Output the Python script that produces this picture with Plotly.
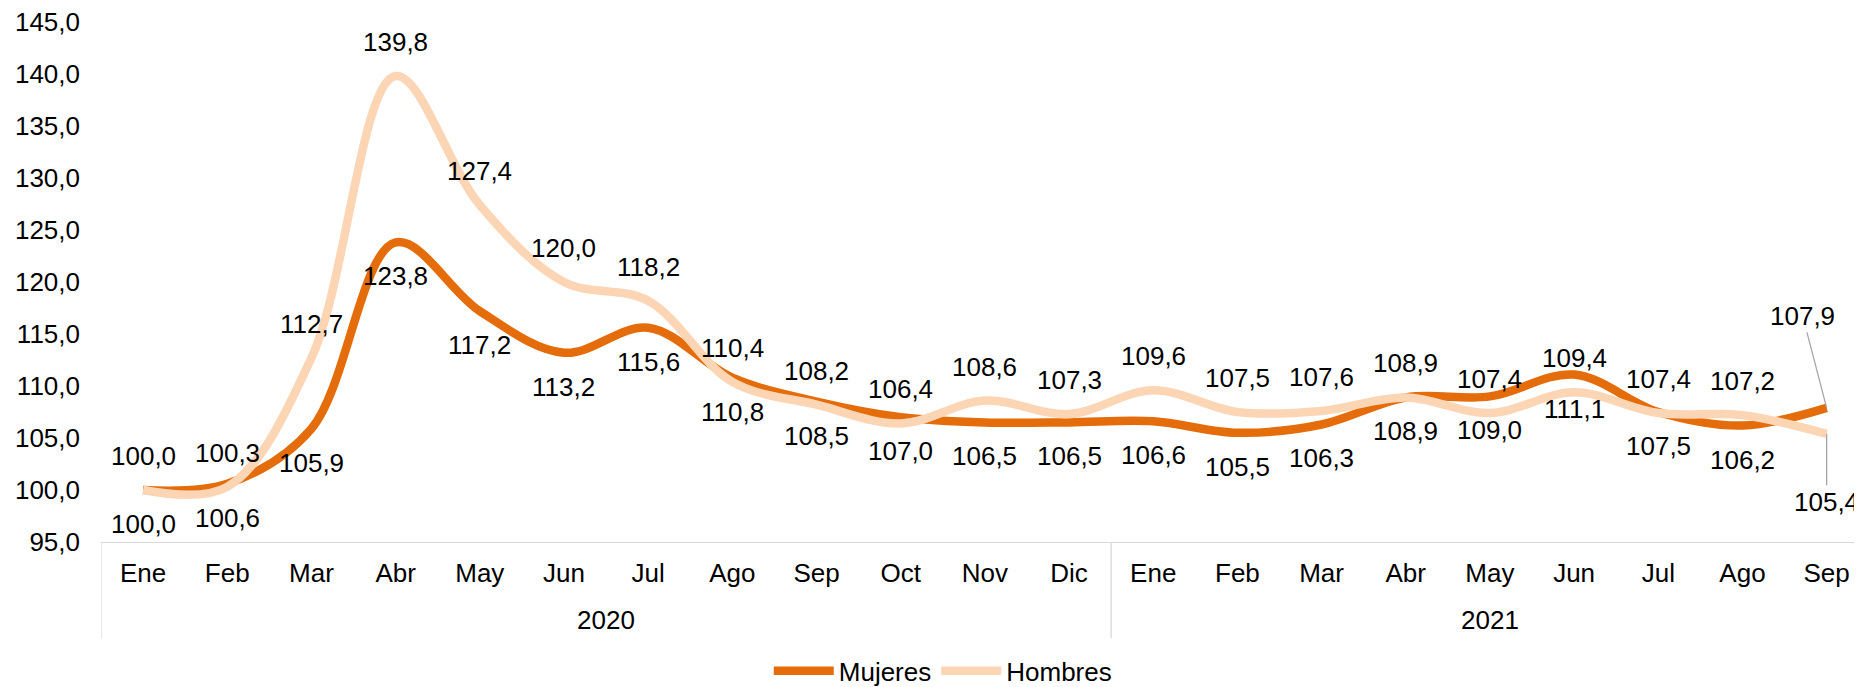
import plotly.graph_objects as go

# ---------------- data ----------------
months = ["Ene", "Feb", "Mar", "Abr", "May", "Jun", "Jul", "Ago", "Sep", "Oct", "Nov", "Dic",
          "Ene", "Feb", "Mar", "Abr", "May", "Jun", "Jul", "Ago", "Sep"]
years = ["2020"] * 12 + ["2021"] * 9
mujeres = [100.0, 100.6, 105.9, 123.8, 117.2, 113.2, 115.6, 110.8, 108.5, 107.0, 106.5, 106.5,
           106.6, 105.5, 106.3, 108.9, 109.0, 111.1, 107.5, 106.2, 107.9]
hombres = [100.0, 100.3, 112.7, 139.8, 127.4, 120.0, 118.2, 110.4, 108.2, 106.4, 108.6, 107.3,
           109.6, 107.5, 107.6, 108.9, 107.4, 109.4, 107.4, 107.2, 105.4]
y_ticks = [95, 100, 105, 110, 115, 120, 125, 130, 135, 140, 145]

# ---------------- style ----------------
C_MUJ = "#E46C0A"
C_HOM = "#FCD5B5"
FONT = "Liberation Sans, Arial, sans-serif"
FS = 26
AXIS_GRAY = "#D9D9D9"

x = list(range(len(months)))


def fmt(v):
    return f"{v:.1f}".replace(".", ",")


fig = go.Figure()
fig.add_trace(go.Scatter(x=x, y=mujeres, name="Mujeres", mode="lines",
                         line=dict(color=C_MUJ, width=8.5, shape="spline", smoothing=1),
                         hoverinfo="skip"))
fig.add_trace(go.Scatter(x=x, y=hombres, name="Hombres", mode="lines",
                         line=dict(color=C_HOM, width=8.5, shape="spline", smoothing=1),
                         hoverinfo="skip"))

annotations = []
last = len(x) - 1
for i in x:
    if i == last:
        continue
    annotations.append(dict(x=i, y=hombres[i], text=fmt(hombres[i]), showarrow=False,
                            xanchor="center", yanchor="middle", yshift=34,
                            font=dict(family=FONT, size=FS, color="#000000")))
    annotations.append(dict(x=i, y=mujeres[i], text=fmt(mujeres[i]), showarrow=False,
                            xanchor="center", yanchor="middle", yshift=-34,
                            font=dict(family=FONT, size=FS, color="#000000")))

# last point labels with leader lines
annotations.append(dict(x=last, y=mujeres[last], text=fmt(mujeres[last]), showarrow=True,
                        arrowhead=0, arrowwidth=1.3, arrowcolor="#A6A6A6",
                        ax=-24, ay=-92, font=dict(family=FONT, size=FS, color="#000000")))
annotations.append(dict(x=last, y=hombres[last], text=fmt(hombres[last]), showarrow=True,
                        arrowhead=0, arrowwidth=1.3, arrowcolor="#A6A6A6",
                        ax=0, ay=68, font=dict(family=FONT, size=FS, color="#000000")))

# outer category level (years)
unique_years = []
for yv in years:
    if yv not in unique_years:
        unique_years.append(yv)
shapes = []
bounds = [-0.5]
for yv in unique_years:
    idx = [i for i, v in enumerate(years) if v == yv]
    center = (idx[0] + idx[-1]) / 2
    annotations.append(dict(x=center, xref="x", y=-0.15, yref="paper", text=yv,
                            showarrow=False, xanchor="center", yanchor="middle",
                            font=dict(family=FONT, size=FS, color="#000000")))
    bounds.append(idx[-1] + 0.5)
for b in bounds:
    shapes.append(dict(type="line", xref="x", yref="paper", x0=b, x1=b, y0=0, y1=-0.185,
                       line=dict(color=AXIS_GRAY, width=1.3)))

# the page body has an 8px margin, so the figure is sized to fill the rest of the window
fig.update_layout(
    width=1854, height=679,
    margin=dict(l=93, r=0, t=14, b=145, autoexpand=False),
    paper_bgcolor="white", plot_bgcolor="white",
    separators=",.",
    font=dict(family=FONT, size=FS, color="#000000"),
    showlegend=True,
    legend=dict(orientation="h", x=0.478, xanchor="center", y=-0.248, yanchor="middle",
                font=dict(family=FONT, size=FS, color="#000000"), itemwidth=60,
                bgcolor="rgba(0,0,0,0)"),
    annotations=annotations,
    shapes=shapes,
)
fig.update_xaxes(range=[-0.5, 20.42], tickmode="array", tickvals=x, ticktext=months,
                 showgrid=False, zeroline=False, showline=True, linecolor=AXIS_GRAY,
                 linewidth=1.3, ticks="", ticklabelstandoff=8, automargin=False,
                 ticklabeloverflow="allow",
                 tickfont=dict(family=FONT, size=FS, color="#000000"))
fig.update_yaxes(range=[95, 145], tickmode="array", tickvals=y_ticks, tickformat=".1f",
                 showgrid=False, zeroline=False, showline=False, ticks="",
                 ticklabelstandoff=20, automargin=False, ticklabeloverflow="allow",
                 tickfont=dict(family=FONT, size=FS, color="#000000"))

fig.write_html("out.html")
